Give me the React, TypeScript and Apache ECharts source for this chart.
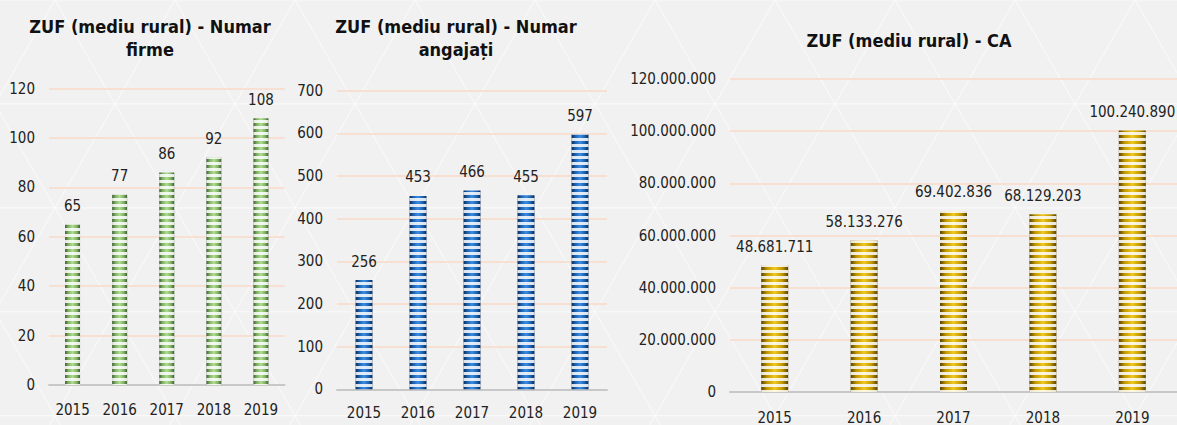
import React, { useEffect, useRef } from "react";
import * as echarts from "echarts";

const years = ["2015", "2016", "2017", "2018", "2019"];
const firme = [65, 77, 86, 92, 108];
const angajati = [256, 453, 466, 455, 597];
const ca = [48681711, 58133276, 69402836, 68129203, 100240890];

const title1 = "ZUF (mediu rural) - Numar\nfirme";
const title2 = "ZUF (mediu rural) - Numar\nangajați";
const title3 = "ZUF (mediu rural) - CA";

const FONT = '"DejaVu Sans Condensed", "Liberation Sans Narrow", "DejaVu Sans", sans-serif';

const dots = (v: number) => String(Math.round(v)).replace(/\B(?=(\d{3})+(?!\d))/g, ".");

function cyl(dark: string, mid: string, light: string) {
  return new echarts.graphic.LinearGradient(0, 0, 1, 0, [
    { offset: 0, color: dark },
    { offset: 0.22, color: mid },
    { offset: 0.5, color: light },
    { offset: 0.78, color: mid },
    { offset: 1, color: dark },
  ]);
}

function lattice() {
  const els: any[] = [];
  const W = 1177;
  const H = 425;
  const step = 120;
  const k = Math.tan(Math.PI / 3);
  const st = { stroke: "rgba(255,255,255,0.55)", lineWidth: 1.2 };
  for (let x0 = -H; x0 < W + H; x0 += step) {
    els.push({ type: "line", silent: true, z: -10, shape: { x1: x0, y1: 0, x2: x0 + H / k, y2: H }, style: st });
    els.push({ type: "line", silent: true, z: -10, shape: { x1: x0, y1: 0, x2: x0 - H / k, y2: H }, style: st });
  }
  for (let y = 0; y < H; y += (step * k) / 2) {
    els.push({ type: "line", silent: true, z: -10, shape: { x1: 0, y1: y, x2: W, y2: y }, style: st });
  }
  return els;
}

export default function App() {
  const ref = useRef<HTMLDivElement>(null);
  useEffect(() => {
    document.body.style.margin = "0";
    const chart = echarts.init(ref.current!, undefined, { renderer: "svg" });
    const grids = [
      { left: 49, top: 88.6, width: 235.5, height: 296.4 },
      { left: 337, top: 90.6, width: 270, height: 298.7 },
      { left: 730, top: 79, width: 449, height: 316 },
    ];
    const titleStyle = {
      fontFamily: FONT,
      fontWeight: "bold" as const,
      fontSize: 18,
      lineHeight: 23,
      color: "#111",
    };
    const xAxisBase = (i: number, margin: number) => ({
      type: "category" as const,
      gridIndex: i,
      data: years,
      axisLine: { show: true, lineStyle: { color: "#c8c8c8", width: 2 } },
      axisTick: { show: false },
      axisLabel: { color: "#222", fontFamily: FONT, fontSize: 15, margin },
    });
    const yAxisBase = (i: number, max: number, interval: number, fmt?: (v: number) => string) => ({
      type: "value" as const,
      gridIndex: i,
      min: 0,
      max,
      interval,
      axisLine: { show: false },
      axisTick: { show: false },
      splitLine: { lineStyle: { color: "#f8d9c6", width: 1.5 } },
      axisLabel: { color: "#222", fontFamily: FONT, fontSize: 15, margin: 14, formatter: fmt },
    });
    const seriesBase = (
      i: number,
      data: number[],
      barWidth: number,
      color: any,
      period: number,
      fmt?: (v: number) => string
    ) => ({
      type: "bar" as const,
      xAxisIndex: i,
      yAxisIndex: i,
      data,
      barWidth,
      itemStyle: {
        color,
        decal: {
          symbol: "rect",
          symbolSize: 1,
          dashArrayX: [1, 0],
          dashArrayY: [period / 2, period / 2],
          rotation: 0,
          color: "rgba(255,255,255,0.85)",
        },
      },
      label: {
        show: true,
        position: "top" as const,
        distance: 11,
        color: "#222",
        fontFamily: FONT,
        fontSize: 15,
        formatter: (p: any) => (fmt ? fmt(p.value) : String(p.value)),
      },
    });
    chart.setOption({
      animation: false,
      backgroundColor: "#f1f1f1",
      graphic: lattice(),
      title: [
        { text: title1, left: 150, top: 15, textAlign: "center", padding: 0, textStyle: titleStyle },
        { text: title2, left: 456, top: 15, textAlign: "center", padding: 0, textStyle: titleStyle },
        { text: title3, left: 909, top: 29, textAlign: "center", padding: 0, textStyle: titleStyle },
      ],
      grid: grids,
      xAxis: [xAxisBase(0, 17), xAxisBase(1, 16), xAxisBase(2, 18)],
      yAxis: [
        yAxisBase(0, 120, 20),
        yAxisBase(1, 700, 100),
        yAxisBase(2, 120000000, 20000000, dots),
      ],
      series: [
        seriesBase(0, firme, 15, cyl("#3f5a35", "#7fb262", "#b0dc94"), 5),
        seriesBase(1, angajati, 17, cyl("#0b2a55", "#1a62b2", "#3d8ce0"), 5),
        seriesBase(2, ca, 27, cyl("#574200", "#c29800", "#efc820"), 6, dots),
      ],
    });
    return () => chart.dispose();
  }, []);
  return (
    <div
      ref={ref}
      style={{ position: "fixed", left: 0, top: 0, width: 1177, height: 425 }}
    />
  );
}
